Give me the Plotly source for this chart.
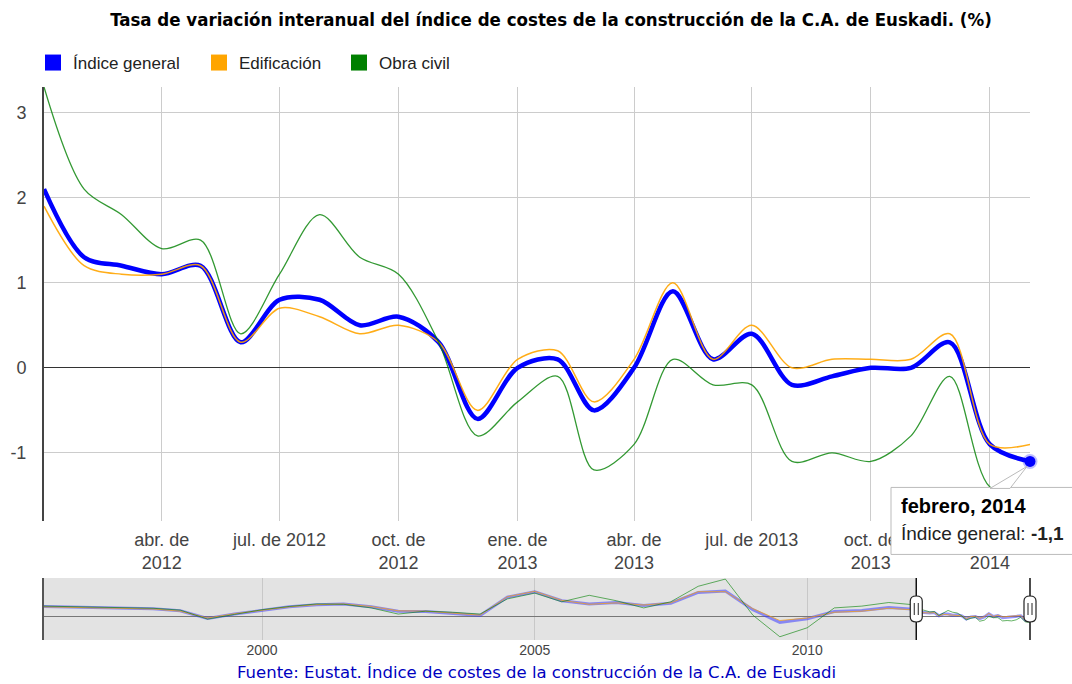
import plotly.graph_objects as go
from datetime import date

# ---------------- data ----------------
months = ["2012-01-01", "2012-02-01", "2012-03-01", "2012-04-01", "2012-05-01", "2012-06-01",
          "2012-07-01", "2012-08-01", "2012-09-01", "2012-10-01", "2012-11-01", "2012-12-01",
          "2013-01-01", "2013-02-01", "2013-03-01", "2013-04-01", "2013-05-01", "2013-06-01",
          "2013-07-01", "2013-08-01", "2013-09-01", "2013-10-01", "2013-11-01", "2013-12-01",
          "2014-01-01", "2014-02-01"]
indice_general = [2.1, 1.3, 1.2, 1.1, 1.2, 0.3, 0.8, 0.8, 0.5, 0.6, 0.3, -0.6,
                  0.0, 0.1, -0.5, 0.0, 0.9, 0.1, 0.4, -0.2, -0.1, 0.0, 0.0, 0.3,
                  -0.9, -1.1]
edificacion = [1.9, 1.2, 1.1, 1.1, 1.2, 0.3, 0.7, 0.6, 0.4, 0.5, 0.3, -0.5,
               0.1, 0.2, -0.4, 0.1, 1.0, 0.1, 0.5, 0.0, 0.1, 0.1, 0.1, 0.4,
               -0.9, -0.9]
obra_civil = [3.3, 2.1, 1.8, 1.4, 1.5, 0.4, 1.1, 1.8, 1.3, 1.1, 0.3, -0.8,
              -0.4, -0.1, -1.2, -0.9, 0.1, -0.2, -0.2, -1.1, -1.0, -1.1, -0.8, -0.1,
              -1.4, -1.5]

# overview (navigator) history, half-yearly readings 1996-2011
nav_dates = ["1996-01-01", "1996-07-01", "1997-01-01", "1997-07-01", "1998-01-01", "1998-07-01",
             "1999-01-01", "1999-07-01", "2000-01-01", "2000-07-01", "2001-01-01", "2001-07-01",
             "2002-01-01", "2002-07-01", "2003-01-01", "2003-07-01", "2004-01-01", "2004-07-01",
             "2005-01-01", "2005-07-01", "2006-01-01", "2006-07-01", "2007-01-01", "2007-07-01",
             "2008-01-01", "2008-07-01", "2009-01-01", "2009-07-01", "2010-01-01", "2010-07-01",
             "2011-01-01", "2011-07-01"]
nav_general = [2.9, 2.7, 2.5, 2.4, 2.3, 1.7, -0.4, 0.8, 1.9, 2.8, 3.4, 3.6, 2.8, 1.6, 1.5, 1.0,
               0.4, 5.5, 7.0, 4.5, 3.6, 4.0, 3.2, 3.8, 6.8, 7.2, 2.0, -1.5, -0.5, 1.5, 1.8, 2.6]
nav_edificacion = [2.8, 2.6, 2.4, 2.3, 2.2, 1.6, -0.3, 0.9, 1.9, 2.8, 3.4, 3.6, 2.9, 1.7, 1.6, 1.1,
                   0.5, 5.6, 7.1, 4.6, 3.5, 3.9, 3.3, 3.9, 7.0, 7.0, 2.3, -1.0, -0.3, 1.3, 1.6, 2.4]
nav_obra_civil = [3.0, 2.9, 2.6, 2.5, 2.4, 1.9, -0.6, 0.7, 2.0, 2.9, 3.6, 3.5, 2.5, 0.8, 1.6, 1.3,
                  0.8, 5.0, 6.6, 4.2, 6.0, 4.5, 2.5, 4.2, 8.5, 10.5, 0.5, -5.5, -3.0, 2.5, 3.0, 4.0]

series_names = ["Índice general", "Edificación", "Obra civil"]
colors = ["#0000ff", "#ffa500", "#008000"]

x_tickvals = ["2012-04-01", "2012-07-01", "2012-10-01", "2013-01-01", "2013-04-01",
              "2013-07-01", "2013-10-01", "2014-01-01"]
x_ticktext = ["abr. de<br>2012", "jul. de 2012", "oct. de<br>2012", "ene. de<br>2013",
              "abr. de<br>2013", "jul. de 2013", "oct. de<br>2013", "ene. de<br>2014"]
y_tickvals = [-1, 0, 1, 2, 3]
y_ticktext = ["-1", "0", "1", "2", "3"]
nav_tickvals = ["2000-01-01", "2005-01-01", "2010-01-01"]
nav_ticktext = ["2000", "2005", "2010"]

title_text = "Tasa de variación interanual del índice de costes de la construcción de la C.A. de Euskadi. (%)"
source_text = "Fuente: Eustat. Índice de costes de la construcción de la C.A. de Euskadi"
tooltip_date = "febrero, 2014"
tooltip_value = "-1,1"

# ---------------- figure ----------------
W, H = 1072, 684
fig = go.Figure()

x_dom = [44 / W, 1030 / W]
y_dom = [(H - 521) / H, (H - 87) / H]
y2_dom = [(H - 640) / H, (H - 578) / H]
y_range = [-1.8, 3.3]
nav_range = [-6.4, 10.8]
nav_mid = (nav_range[0] + nav_range[1]) / 2


def to_date(s):
    return date.fromisoformat(s)


def xpaper(d, start, end):
    f = (to_date(d) - to_date(start)).days / (to_date(end) - to_date(start)).days
    return x_dom[0] + f * (x_dom[1] - x_dom[0])


def ypaper(v, rng, dom):
    return dom[0] + (v - rng[0]) / (rng[1] - rng[0]) * (dom[1] - dom[0])


# main chart lines
fig.add_trace(go.Scatter(x=months, y=indice_general, mode="lines", name=series_names[0],
                         line=dict(color=colors[0], width=4.5, shape="spline", smoothing=0.9),
                         showlegend=False, xaxis="x", yaxis="y"))
fig.add_trace(go.Scatter(x=months, y=edificacion, mode="lines", name=series_names[1],
                         line=dict(color=colors[1], width=1.5, shape="spline", smoothing=0.9),
                         opacity=0.9, showlegend=False, xaxis="x", yaxis="y"))
fig.add_trace(go.Scatter(x=months, y=obra_civil, mode="lines", name=series_names[2],
                         line=dict(color=colors[2], width=1.3, shape="spline", smoothing=0.9),
                         opacity=0.8, showlegend=False, xaxis="x", yaxis="y"))
# highlighted last point
fig.add_trace(go.Scatter(x=[months[-1]], y=[indice_general[-1]], mode="markers",
                         marker=dict(color=colors[0], size=11,
                                     line=dict(color="rgba(0,0,255,0.25)", width=4)),
                         cliponaxis=False, showlegend=False, xaxis="x", yaxis="y"))

# navigator lines
nav_x = nav_dates + months
fig.add_trace(go.Scatter(x=nav_x, y=nav_general + indice_general, mode="lines",
                         line=dict(color="rgba(60,60,255,0.55)", width=3),
                         showlegend=False, xaxis="x2", yaxis="y2"))
fig.add_trace(go.Scatter(x=nav_x, y=nav_edificacion + edificacion, mode="lines",
                         line=dict(color="rgba(255,165,0,0.7)", width=1),
                         showlegend=False, xaxis="x2", yaxis="y2"))
fig.add_trace(go.Scatter(x=nav_x, y=nav_obra_civil + obra_civil, mode="lines",
                         line=dict(color="rgba(0,128,0,0.6)", width=1),
                         showlegend=False, xaxis="x2", yaxis="y2"))

# legend entries (one legend box each, positioned like the original)
legend_keys = ["legend", "legend2", "legend3"]
legend_square_centers = [53, 219, 359]
for name, c, lk in zip(series_names, colors, legend_keys):
    fig.add_trace(go.Scatter(x=[None], y=[None], mode="markers", name=name,
                             marker=dict(symbol="square", size=18, color=c),
                             showlegend=True, legend=lk, xaxis="x", yaxis="y"))

shapes = []
# navigator shaded (unselected) region
shapes.append(dict(type="rect", xref="x2", yref="y2 domain", x0=nav_x[0], x1=months[0],
                   y0=0, y1=1, fillcolor="rgba(0,0,0,0.11)", line=dict(width=0), layer="below"))
# navigator handles (paper refs so they are not clipped at the plot edge)
nav_mid_p = ypaper(nav_mid, nav_range, y2_dom)
for d in [months[0], months[-1]]:
    xp = xpaper(d, nav_x[0], months[-1])
    shapes.append(dict(type="line", xref="paper", yref="paper", x0=xp, x1=xp,
                       y0=y2_dom[0], y1=y2_dom[1],
                       line=dict(color="#111", width=1.5), layer="above"))
    shapes.append(dict(type="path", xref="paper", yref="paper", xsizemode="pixel", ysizemode="pixel",
                       xanchor=xp, yanchor=nav_mid_p,
                       path="M -6 -8 L -6 8 Q -6 13 0 13 Q 6 13 6 8 L 6 -8 Q 6 -13 0 -13 Q -6 -13 -6 -8 Z",
                       fillcolor="white", line=dict(color="#222", width=1.2), layer="above"))
    shapes.append(dict(type="path", xref="paper", yref="paper", xsizemode="pixel", ysizemode="pixel",
                       xanchor=xp, yanchor=nav_mid_p,
                       path="M -2 -6 L -2 6 M 2 -6 L 2 6",
                       line=dict(color="#222", width=1), layer="above"))

# tooltip box + pointer anchored at last point of the main series
tip_x = xpaper(months[-1], months[0], months[-1])
tip_y = ypaper(indice_general[-1], y_range, y_dom)
shapes.append(dict(type="rect", xref="paper", yref="paper", xsizemode="pixel", ysizemode="pixel",
                   xanchor=tip_x, yanchor=tip_y,
                   x0=-139, x1=60, y0=-26, y1=-93,
                   fillcolor="white", line=dict(color="#bbbbbb", width=1), layer="above"))
shapes.append(dict(type="path", xref="paper", yref="paper", xsizemode="pixel", ysizemode="pixel",
                   xanchor=tip_x, yanchor=tip_y,
                   path="M -3 -5 L -40 -27 L -20 -27 Z",
                   fillcolor="white", line=dict(color="#bbbbbb", width=1), layer="above"))

annotations = [
    dict(x=months[-1], y=indice_general[-1], xref="x", yref="y", xanchor="left", yanchor="middle",
         xshift=-131, yshift=-45, showarrow=False, text="<b>" + tooltip_date + "</b>",
         font=dict(family="Liberation Sans, Arial", size=20, color="#000")),
    dict(x=months[-1], y=indice_general[-1], xref="x", yref="y", xanchor="left", yanchor="middle",
         xshift=-131, yshift=-72, showarrow=False,
         text=series_names[0] + ": <b>" + tooltip_value + "</b>",
         font=dict(family="Liberation Sans, Arial", size=19, color="#222")),
    dict(x=536 / W, y=1 - 672 / H, xref="paper", yref="paper", xanchor="center", yanchor="middle",
         showarrow=False, text=source_text,
         font=dict(family="DejaVu Sans, Verdana", size=16.5, color="#0000c0")),
]

legend_common = dict(orientation="h", y=1 - 63 / H, xanchor="left", yanchor="middle",
                     font=dict(family="Liberation Sans, Arial", size=17, color="#222"),
                     bgcolor="rgba(0,0,0,0)", itemclick=False, itemdoubleclick=False)

fig.update_layout(
    width=W, height=H,
    margin=dict(l=0, r=0, t=0, b=0),
    paper_bgcolor="white", plot_bgcolor="white",
    hovermode=False,
    title=dict(text="<b>" + title_text + "</b>", x=551 / W, xanchor="center",
               y=1 - 20 / H, yanchor="middle",
               font=dict(family="DejaVu Sans Condensed, DejaVu Sans", size=18.5, color="#000")),
    legend=dict(x=(legend_square_centers[0] - 20) / W, **legend_common),
    legend2=dict(x=(legend_square_centers[1] - 20) / W, **legend_common),
    legend3=dict(x=(legend_square_centers[2] - 20) / W, **legend_common),
    xaxis=dict(domain=x_dom, anchor="y", type="date", range=[months[0], months[-1]],
               tickvals=x_tickvals, ticktext=x_ticktext, ticks="", showgrid=True,
               gridcolor="#cccccc", gridwidth=1, showline=False, zeroline=False,
               tickfont=dict(family="Liberation Sans, Arial", size=18, color="#444"),
               ticklabelstandoff=6, fixedrange=True, automargin=False),
    yaxis=dict(domain=y_dom, anchor="x", range=y_range, tickvals=y_tickvals,
               ticktext=y_ticktext, ticks="", showgrid=True, gridcolor="#cccccc", gridwidth=1,
               zeroline=True, zerolinecolor="#333", zerolinewidth=1,
               showline=True, linecolor="#444", linewidth=2,
               tickfont=dict(family="Liberation Sans, Arial", size=18, color="#444"),
               ticklabelstandoff=12, fixedrange=True, automargin=False),
    xaxis2=dict(domain=x_dom, anchor="y2", type="date", range=[nav_x[0], months[-1]],
                tickvals=nav_tickvals, ticktext=nav_ticktext, ticks="", showgrid=True,
                gridcolor="#c8c8c8", showline=False, zeroline=False,
                tickfont=dict(family="Liberation Sans, Arial", size=14, color="#444"),
                fixedrange=True, automargin=False),
    yaxis2=dict(domain=y2_dom, anchor="x2", range=nav_range, showticklabels=False,
                showgrid=False, zeroline=True, zerolinecolor="#777", zerolinewidth=1,
                showline=True, linecolor="#555", linewidth=1.5, ticks="",
                fixedrange=True, automargin=False),
    shapes=shapes,
    annotations=annotations,
)

fig.write_html("out.html", config={"displayModeBar": False},
               post_script="document.body.style.margin='0';document.body.style.padding='0';")
